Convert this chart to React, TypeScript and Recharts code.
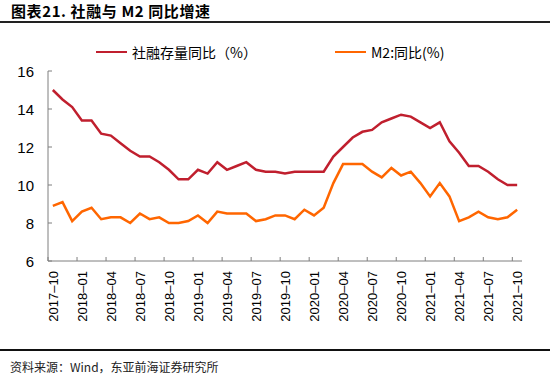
import React from 'react';
import { LineChart, Line, XAxis, YAxis } from 'recharts';

const months = [
  '2017-10', '2017-11', '2017-12',
  '2018-01', '2018-02', '2018-03', '2018-04', '2018-05', '2018-06', '2018-07', '2018-08', '2018-09', '2018-10', '2018-11', '2018-12',
  '2019-01', '2019-02', '2019-03', '2019-04', '2019-05', '2019-06', '2019-07', '2019-08', '2019-09', '2019-10', '2019-11', '2019-12',
  '2020-01', '2020-02', '2020-03', '2020-04', '2020-05', '2020-06', '2020-07', '2020-08', '2020-09', '2020-10', '2020-11', '2020-12',
  '2021-01', '2021-02', '2021-03', '2021-04', '2021-05', '2021-06', '2021-07', '2021-08', '2021-09', '2021-10',
];

const tsfGrowth = [
  15.0, 14.5, 14.1,
  13.4, 13.4, 12.7, 12.6, 12.2, 11.8, 11.5, 11.5, 11.2, 10.8, 10.3, 10.3,
  10.8, 10.6, 11.2, 10.8, 11.0, 11.2, 10.8, 10.7, 10.7, 10.6, 10.7, 10.7,
  10.7, 10.7, 11.5, 12.0, 12.5, 12.8, 12.9, 13.3, 13.5, 13.7, 13.6, 13.3,
  13.0, 13.3, 12.3, 11.7, 11.0, 11.0, 10.7, 10.3, 10.0, 10.0,
];

const m2Growth = [
  8.9, 9.1, 8.1,
  8.6, 8.8, 8.2, 8.3, 8.3, 8.0, 8.5, 8.2, 8.3, 8.0, 8.0, 8.1,
  8.4, 8.0, 8.6, 8.5, 8.5, 8.5, 8.1, 8.2, 8.4, 8.4, 8.2, 8.7,
  8.4, 8.8, 10.1, 11.1, 11.1, 11.1, 10.7, 10.4, 10.9, 10.5, 10.7, 10.1,
  9.4, 10.1, 9.4, 8.1, 8.3, 8.6, 8.3, 8.2, 8.3, 8.7,
];

const yTicks = [6, 8, 10, 12, 14, 16];

const seriesNames = ['社融存量同比（%）', 'M2:同比(%)'];
const seriesColors = ['#C01F2E', '#FF6600'];

const data = months.map((m, i) => ({ month: m, tsf: tsfGrowth[i], m2: m2Growth[i] }));

const CHART_W = 550;
const CHART_H = 374;
const MARGIN = { top: 71, right: 28, left: 8, bottom: 53 };
const Y_AXIS_W = 40;
const PLOT_W = CHART_W - MARGIN.left - MARGIN.right - Y_AXIS_W;
const HALF_BAND = PLOT_W / months.length / 2;
const AXIS_COLOR = '#7f7f7f';
const LATIN_FONT = '"Liberation Sans", Arial, sans-serif';
const CJK_FONT = '"Noto Sans CJK SC", "Noto Sans", sans-serif';

const YTick = (props: any) => {
  const { x, y, payload } = props;
  return (
    <g>
      <line x1={x} x2={x + 4} y1={y} y2={y} stroke={AXIS_COLOR} strokeWidth={1} />
      <text x={x - 14} y={y} dy="0.42em" textAnchor="end" fontSize={15} fontFamily={LATIN_FONT} fill="#000">
        {payload.value}
      </text>
    </g>
  );
};

const XTick = (props: any) => {
  const { x, y, payload } = props;
  const label = String(payload.value).replace('-', '–');
  return (
    <g>
      <line x1={x - HALF_BAND} x2={x - HALF_BAND} y1={y} y2={y - 4} stroke={AXIS_COLOR} strokeWidth={1} />
      <text
        transform={`translate(${x},${y + 10}) rotate(-90)`}
        textAnchor="end"
        dy="0.36em"
        fontSize={13}
        fontFamily={LATIN_FONT}
        fill="#000"
      >
        {label}
      </text>
    </g>
  );
};

const LegendItem = ({ color, label, left }: { color: string; label: string; left: number }) => (
  <div style={{ position: 'absolute', left, top: 42, height: 20, display: 'flex', alignItems: 'center', whiteSpace: 'nowrap' }}>
    <div style={{ width: 31, height: 2.5, background: color, marginRight: 5 }} />
    <span style={{ fontFamily: CJK_FONT, fontSize: 14, color: '#000', lineHeight: '20px' }}>{label}</span>
  </div>
);

export default function App() {
  return (
    <div style={{ position: 'absolute', left: 0, top: 0, width: CHART_W, height: CHART_H, background: '#fff', overflow: 'hidden' }}>
      <div
        style={{
          position: 'absolute',
          left: 11,
          top: 0,
          fontFamily: CJK_FONT,
          fontWeight: 700,
          fontSize: 15,
          letterSpacing: 0.6,
          color: '#000',
          whiteSpace: 'nowrap',
        }}
      >
        图表21. 社融与 M2 同比增速
      </div>
      <div style={{ position: 'absolute', left: 0, top: 20.5, width: CHART_W, height: 2, background: '#222' }} />

      <div style={{ position: 'absolute', left: 0, top: 0 }}>
        <LineChart width={CHART_W} height={CHART_H} data={data} margin={MARGIN}>
          <XAxis
            dataKey="month"
            interval={2}
            padding={{ left: HALF_BAND, right: HALF_BAND }}
            tickSize={0}
            tickMargin={0}
            tickLine={false}
            axisLine={{ stroke: AXIS_COLOR, strokeWidth: 1 }}
            tick={<XTick />}
            height={60}
          />
          <YAxis
            domain={[6, 16]}
            ticks={yTicks}
            interval={0}
            width={Y_AXIS_W}
            tickSize={0}
            tickMargin={0}
            tickLine={false}
            axisLine={{ stroke: AXIS_COLOR, strokeWidth: 1 }}
            tick={<YTick />}
          />
          <Line type="linear" dataKey="tsf" name={seriesNames[0]} stroke={seriesColors[0]} strokeWidth={2.5} dot={false} isAnimationActive={false} />
          <Line type="linear" dataKey="m2" name={seriesNames[1]} stroke={seriesColors[1]} strokeWidth={2.5} dot={false} isAnimationActive={false} />
        </LineChart>
      </div>

      <LegendItem color={seriesColors[0]} label={seriesNames[0]} left={96} />
      <LegendItem color={seriesColors[1]} label={seriesNames[1]} left={335} />

      <div style={{ position: 'absolute', left: 0, top: 349, width: CHART_W, height: 2, background: '#111' }} />
      <div
        style={{
          position: 'absolute',
          left: 10,
          top: 359,
          fontFamily: CJK_FONT,
          fontSize: 12,
          lineHeight: '16px',
          color: '#222',
          whiteSpace: 'nowrap',
        }}
      >
        资料来源：Wind，东亚前海证券研究所
      </div>
    </div>
  );
}
